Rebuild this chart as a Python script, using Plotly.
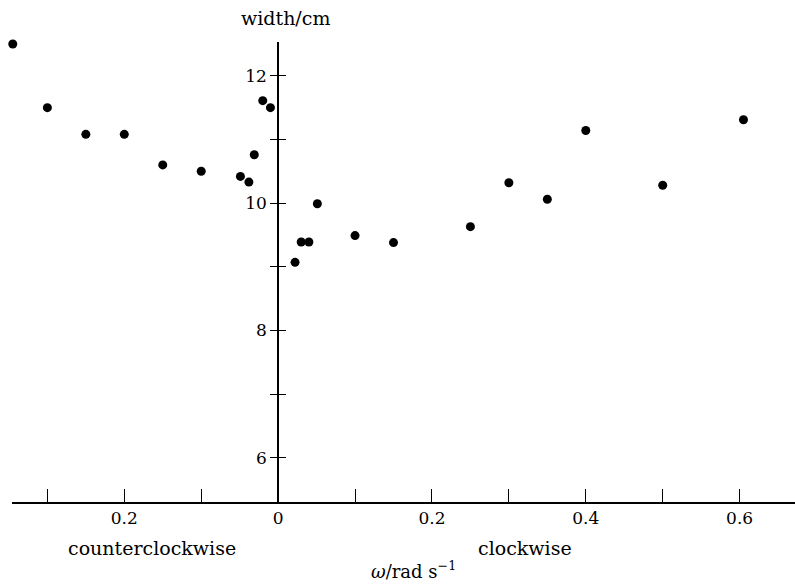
import plotly.graph_objects as go

# Angular velocity (rad/s); negative = counterclockwise, positive = clockwise
omega = [-0.345, -0.30, -0.25, -0.20, -0.15, -0.10, -0.049, -0.038, -0.031, -0.02, -0.01,
         0.022, 0.03, 0.04, 0.051, 0.10, 0.15, 0.25, 0.30, 0.35, 0.40, 0.50, 0.605]
# Measured width (cm)
width = [12.5, 11.5, 11.08, 11.08, 10.6, 10.5, 10.42, 10.33, 10.76, 11.61, 11.5,
         9.07, 9.39, 9.39, 9.99, 9.49, 9.38, 9.63, 10.32, 10.06, 11.14, 10.28, 11.31]

x_tickvals = [-0.2, 0.0, 0.2, 0.4, 0.6]
x_ticktext = ["0.2", "0", "0.2", "0.4", "0.6"]
x_minorvals = [-0.3, -0.1, 0.1, 0.3, 0.5]
y_tickvals = [6, 8, 10, 12]
y_ticktext = ["6", "8", "10", "12"]
y_minorvals = [7, 9, 11]

x_range = [-0.346, 0.672]
y_range = [5.305, 12.531]
font_family = "DejaVu Serif"
y_axis_pos = (0 - x_range[0]) / (x_range[1] - x_range[0])

fig = go.Figure()
fig.add_trace(go.Scatter(
    x=omega, y=width, mode="markers",
    marker=dict(size=9, color="black"),
    cliponaxis=False, showlegend=False, hoverinfo="skip",
))
# invisible trace so the second y axis (inner tick halves) is drawn
fig.add_trace(go.Scatter(x=[0], y=[9], yaxis="y2", mode="markers",
                         marker=dict(size=1, opacity=0), showlegend=False, hoverinfo="skip"))

fig.update_layout(
    width=795, height=585,
    margin=dict(l=12, r=0, t=42, b=83),
    paper_bgcolor="white", plot_bgcolor="white",
    font=dict(family=font_family, color="black", size=17),
    xaxis=dict(
        range=x_range, showgrid=False, zeroline=False,
        showline=True, linecolor="black", linewidth=1.5,
        ticks="inside", ticklen=13, tickwidth=1.3, tickcolor="black",
        tickmode="array", tickvals=x_tickvals, ticktext=x_ticktext,
        tickfont=dict(family=font_family, size=17),
        minor=dict(tickmode="array", tickvals=x_minorvals, ticks="inside",
                   ticklen=13, tickwidth=1.3, tickcolor="black", showgrid=False),
    ),
    yaxis=dict(
        range=y_range, showgrid=False, zeroline=False,
        anchor="free", position=y_axis_pos,
        showline=True, linecolor="black", linewidth=1.8,
        ticks="outside", ticklen=7, tickwidth=1.3, tickcolor="black",
        tickmode="array", tickvals=y_tickvals, ticktext=y_ticktext,
        tickfont=dict(family=font_family, size=17),
        minor=dict(tickmode="array", tickvals=y_minorvals, ticks="outside",
                   ticklen=7, tickwidth=1.3, tickcolor="black", showgrid=False),
    ),
    yaxis2=dict(
        range=y_range, overlaying="y", anchor="free", position=y_axis_pos,
        showgrid=False, zeroline=False, showline=False,
        ticks="inside", ticklen=7, tickwidth=1.3, tickcolor="black",
        tickmode="array", tickvals=y_tickvals, showticklabels=False,
        minor=dict(tickmode="array", tickvals=y_minorvals, ticks="inside",
                   ticklen=7, tickwidth=1.3, tickcolor="black", showgrid=False),
    ),
)

fig.add_annotation(text="width/cm", x=0.009, xref="x", y=1.052, yref="paper",
                   showarrow=False, font=dict(size=19), xanchor="center", yanchor="middle")
fig.add_annotation(text="counterclockwise", x=-0.164, xref="x", y=-0.1, yref="paper",
                   showarrow=False, font=dict(size=19), xanchor="center", yanchor="middle")
fig.add_annotation(text="clockwise", x=0.321, xref="x", y=-0.1, yref="paper",
                   showarrow=False, font=dict(size=19), xanchor="center", yanchor="middle")
fig.add_annotation(text="<i>ω</i>/rad s<sup>−1</sup>", x=0.1755, xref="x", y=-0.148, yref="paper",
                   showarrow=False, font=dict(size=18), xanchor="center", yanchor="middle")

fig.write_html("out.html")
